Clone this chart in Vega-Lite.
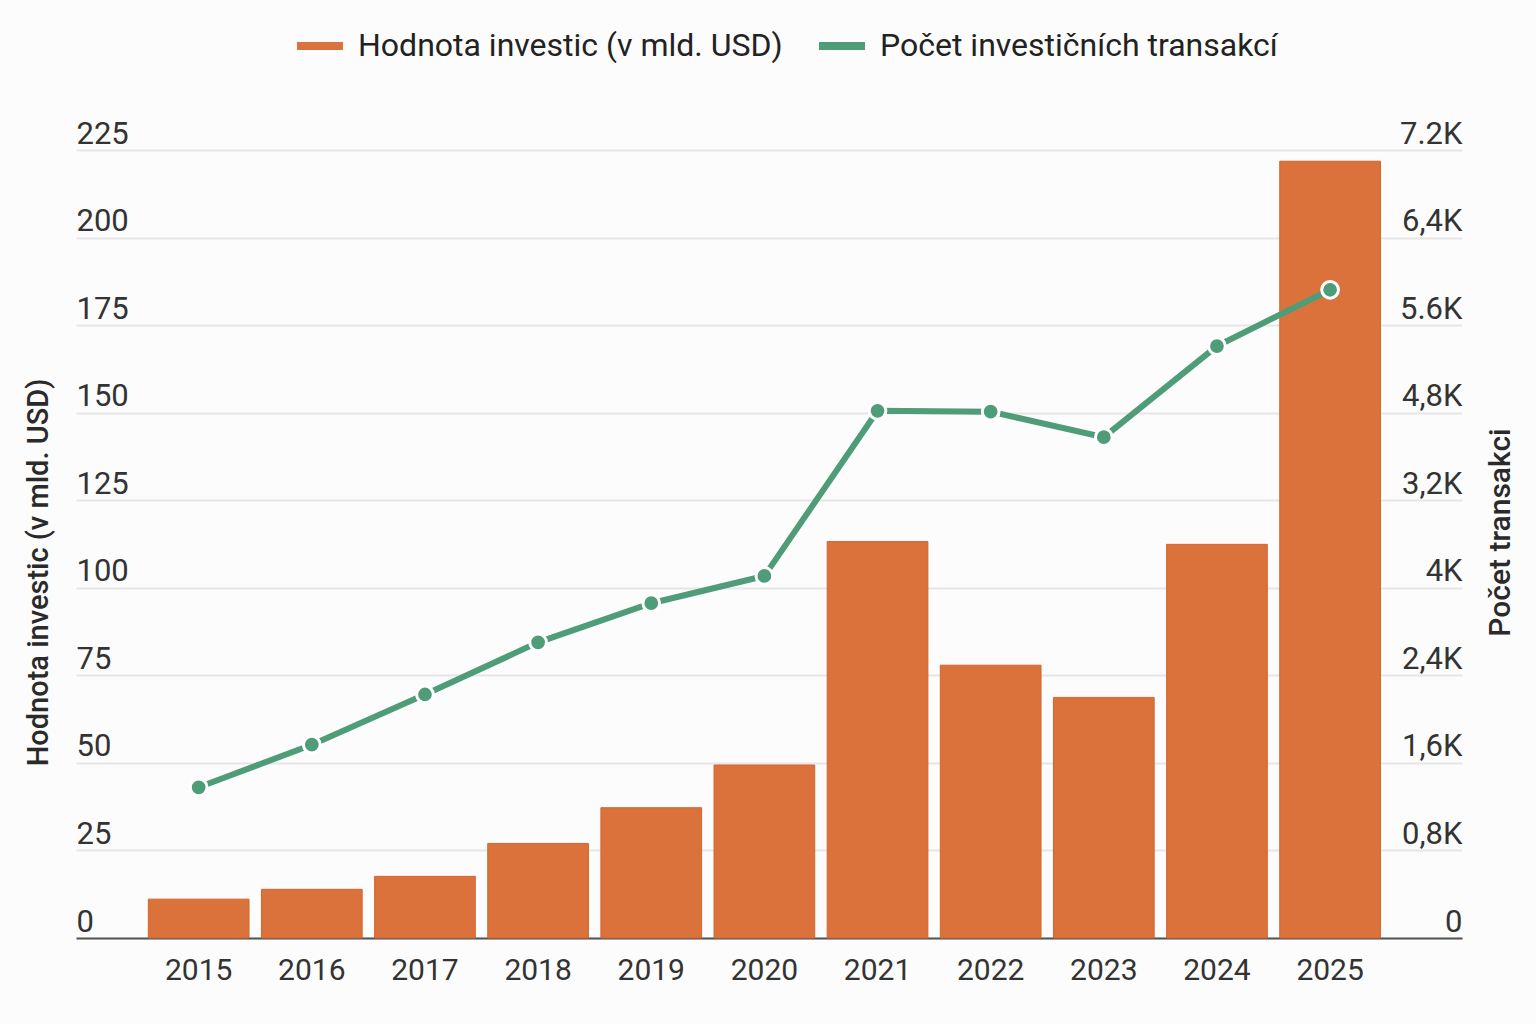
{
  "$schema": "https://vega.github.io/schema/vega-lite/v6.json",
  "width": 1386,
  "height": 788,
  "autosize": {"type": "none"},
  "padding": {"left": 76, "top": 150, "right": 74, "bottom": 86},
  "background": "#fcfcfc",
  "config": {
    "view": {"stroke": null},
    "font": "Roboto",
    "axis": {"labelFont": "Roboto", "titleFont": "Roboto", "labelColor": "#333333", "titleColor": "#2a2a2a"},
    "legend": {"labelFont": "Roboto"}
  },
  "data": {
    "values": [
      {"rok": "2015", "hodnota": 11.1, "pocet": 1377},
      {"rok": "2016", "hodnota": 13.9, "pocet": 1766},
      {"rok": "2017", "hodnota": 17.6, "pocet": 2225},
      {"rok": "2018", "hodnota": 27.0, "pocet": 2701},
      {"rok": "2019", "hodnota": 37.2, "pocet": 3059},
      {"rok": "2020", "hodnota": 49.4, "pocet": 3308},
      {"rok": "2021", "hodnota": 113.2, "pocet": 4817},
      {"rok": "2022", "hodnota": 77.9, "pocet": 4809},
      {"rok": "2023", "hodnota": 68.7, "pocet": 4576},
      {"rok": "2024", "hodnota": 112.4, "pocet": 5408},
      {"rok": "2025", "hodnota": 221.8, "pocet": 5923}
    ]
  },
  "layer": [
    {
      "mark": {"type": "bar", "stroke": "#d4652d", "strokeWidth": 1},
      "encoding": {
        "x": {
          "field": "rok",
          "type": "ordinal",
          "scale": {"paddingInner": 0.11, "paddingOuter": 0.68, "align": 0.47},
          "axis": {
            "title": null,
            "labelAngle": 0,
            "domain": true,
            "domainColor": "#555555",
            "domainWidth": 2,
            "ticks": false,
            "labelPadding": 17,
            "labelFontSize": 30,
            "grid": false
          }
        },
        "y": {
          "field": "hodnota",
          "type": "quantitative",
          "scale": {"domain": [0, 225], "nice": false},
          "axis": {
            "orient": "left",
            "values": [0, 25, 50, 75, 100, 125, 150, 175, 200, 225],
            "title": "Hodnota investic (v mld. USD)",
            "titleFontSize": 29,
            "titleFontWeight": 500,
            "titleAngle": -90,
            "titleX": -38,
            "titleY": 422,
            "titleAlign": "center",
            "titleBaseline": "middle",
            "grid": true,
            "gridColor": "#e6e6e6",
            "gridWidth": 2,
            "domain": false,
            "ticks": false,
            "tickSize": 0,
            "labelAlign": "left",
            "labelBaseline": "alphabetic",
            "labelPadding": 0,
            "labelOffset": -7,
            "labelFontSize": 31,
            "labelOverlap": false,
            "labelBound": false
          }
        },
        "color": {
          "datum": "Hodnota investic (v mld. USD)",
          "scale": {
            "domain": ["Hodnota investic (v mld. USD)", "Počet investičních transakcí"],
            "range": ["#db723c", "#4e9c78"]
          },
          "legend": {
            "title": null,
            "orient": "none",
            "direction": "horizontal",
            "legendX": 221,
            "legendY": -127,
            "padding": 0,
            "symbolType": "M-1,-0.17L1,-0.17L1,0.17L-1,0.17Z",
            "symbolSize": 2116,
            "symbolStrokeWidth": 0,
            "labelOffset": 15,
            "columnPadding": 36,
            "labelFontSize": 32,
            "labelColor": "#222222",
            "labelLimit": 0
          }
        }
      }
    },
    {
      "mark": {
        "type": "line",
        "color": "#4e9c78",
        "strokeWidth": 6,
        "point": {"filled": true, "fill": "#4e9c78", "size": 280, "stroke": "#ffffff", "strokeWidth": 3}
      },
      "encoding": {
        "x": {"field": "rok", "type": "ordinal"},
        "y": {
          "field": "pocet",
          "type": "quantitative",
          "scale": {"domain": [0, 7200], "nice": false},
          "axis": {
            "orient": "right",
            "values": [0, 800, 1600, 2400, 3200, 4000, 4800, 5600, 6400, 7200],
            "labelExpr": "datum.value == 7200 ? '7.2K' : datum.value == 6400 ? '6,4K' : datum.value == 5600 ? '5.6K' : datum.value == 4800 ? '4,8K' : datum.value == 4000 ? '3,2K' : datum.value == 3200 ? '4K' : datum.value == 2400 ? '2,4K' : datum.value == 1600 ? '1,6K' : datum.value == 800 ? '0,8K' : '0'",
            "title": "Počet transakci",
            "titleFontSize": 30,
            "titleFontWeight": 500,
            "titleAngle": -90,
            "titleX": 38,
            "titleY": 382,
            "titleAlign": "center",
            "titleBaseline": "middle",
            "grid": false,
            "domain": false,
            "ticks": false,
            "tickSize": 0,
            "labelAlign": "right",
            "labelBaseline": "alphabetic",
            "labelPadding": 0,
            "labelOffset": -7,
            "labelFontSize": 31,
            "labelOverlap": false,
            "labelBound": false
          }
        }
      }
    }
  ],
  "resolve": {"scale": {"y": "independent"}}
}
